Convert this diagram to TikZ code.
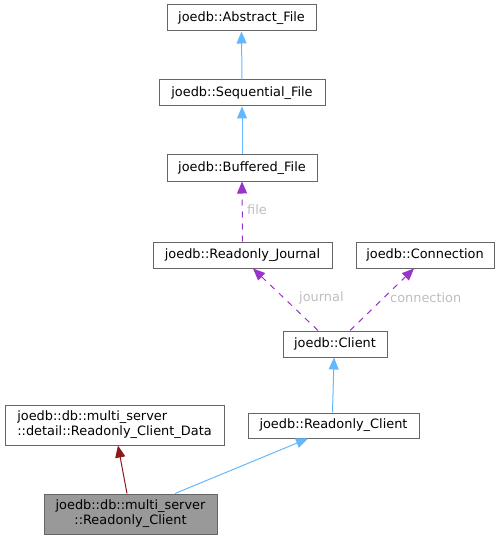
\documentclass[tikz,border=0pt]{standalone}
\usepackage{fontspec}
\setmainfont{DejaVu Sans}
\usetikzlibrary{arrows.meta}
\definecolor{boxline}{HTML}{666666}
\definecolor{inhblue}{HTML}{63B8FF}
\definecolor{usepurple}{HTML}{9A32CD}
\definecolor{privred}{HTML}{8B1A1A}
\definecolor{lblgrey}{HTML}{BEBEBE}
\definecolor{selfgrey}{HTML}{999999}
\begin{document}
\begin{tikzpicture}[x=1pt,y=-1pt,
  every node/.style={font=\fontsize{12.9}{15}\selectfont},
  cls/.style={draw=boxline, line width=1pt, fill=white, inner sep=0pt, text=black},
  inh/.style={draw=inhblue, line width=1pt, -{Triangle[length=12pt,width=10pt]}},
  usedash/.style={draw=usepurple, line width=1pt, dash pattern=on 6pt off 6pt, -{Triangle[length=12pt,width=10pt]}},
  priv/.style={draw=privred, line width=1pt, -{Triangle[length=12pt,width=10pt]}},
  lbl/.style={text=lblgrey, inner sep=0pt, anchor=west}]
\useasboundingbox (0,0) rectangle (500,540);
\node[cls, minimum width=149pt, minimum height=26pt] (abs) at (241.5,18) {joedb::Abstract\_File};
\node[cls, minimum width=166pt, minimum height=26pt] (seq) at (242,93) {joedb::Sequential\_File};
\node[cls, minimum width=150pt, minimum height=26pt] (buf) at (242,168) {joedb::Buffered\_File};
\node[cls, minimum width=179pt, minimum height=26pt] (jour) at (242.5,255) {joedb::Readonly\_Journal};
\node[cls, minimum width=138pt, minimum height=26pt] (conn) at (425,255) {joedb::Connection};
\node[cls, minimum width=104pt, minimum height=26pt] (client) at (335,344) {joedb::Client};
\node[cls, minimum width=171pt, minimum height=25pt] (rc) at (333.5,425.5) {joedb::Readonly\_Client};
\node[cls, minimum width=219pt, minimum height=40pt, align=left] (rcd) at (114.5,425) {joedb::db::multi\_server\\::detail::Readonly\_Client\_Data};
\node[cls, fill=selfgrey, minimum width=173pt, minimum height=40pt, align=center] (self) at (130.5,514) {joedb::db::multi\_server\\::Readonly\_Client};

\draw[inh] (seq.north) -- (abs.south);
\draw[inh] (buf.north) -- (seq.south);
\draw[usedash] (jour.north) -- (buf.south);
\node[lbl] (lfile) at (247,210) {file};
\draw[usedash] ([xshift=-17pt]client.north) -- ([xshift=10.5pt]jour.south);
\node[lbl] (ljour) at (299,298) {journal};
\draw[usedash] ([xshift=15pt]client.north) -- ([xshift=-11pt]conn.south);
\node[lbl] (lconn) at (390,298) {connection};
\draw[inh] ([xshift=-1pt]rc.north) -- ([xshift=-1pt]client.south);
\draw[priv] ([xshift=-3.5pt]self.north) -- ([xshift=3.5pt]rcd.south);
\draw[inh] ([xshift=44.5pt]self.north) -- ([xshift=-25.5pt]rc.south);
\end{tikzpicture}
\end{document}
